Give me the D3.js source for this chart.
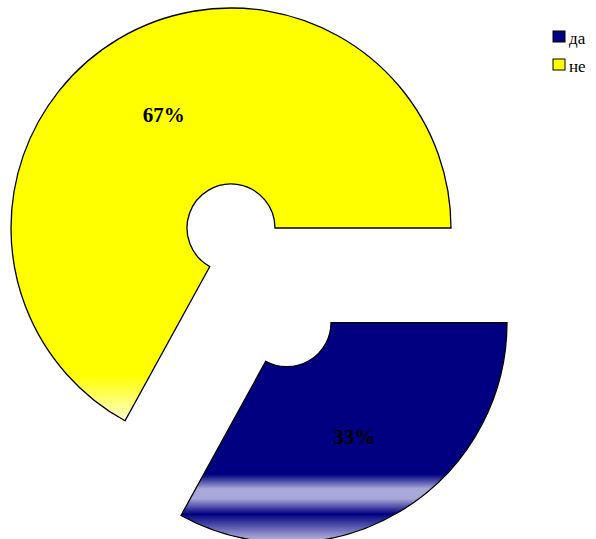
<!DOCTYPE html>
<html>
<head>
<meta charset="utf-8">
<script src="https://cdn.jsdelivr.net/npm/d3@7"></script>
<style>
  body { margin: 0; background: #fff; }
  svg { display: block; }
</style>
</head>
<body>
<div id="chart"></div>
<script>
const categories = ["да", "не"];
const values = [33, 67];
const sliceColors = ["#000080", "#FFFF00"];
const explodeBy = [110, 0];

const width = 596, height = 539;
const cx = 231, cy = 228;
const outerR = 220, innerR = 44;

let svg = d3.select('#chart').append('svg')
    .attr('width', width)
    .attr('height', height);

let defs = svg.append('defs');

// blue slice: navy with light bands near the bottom
let gBlue = defs.append('linearGradient')
    .attr('id', 'grad0')
    .attr('x1', 0).attr('y1', 0).attr('x2', 0).attr('y2', 1);
[[0, '#000080'], [0.69, '#000080'], [0.755, '#A8A8D8'], [0.8, '#A8A8D8'], [0.87, '#000080'], [0.98, '#A8A8D8'], [1, '#A8A8D8']]
    .forEach(function(s) { gBlue.append('stop').attr('offset', s[0]).attr('stop-color', s[1]); });

// yellow slice: fades to pale at the bottom
let gYellow = defs.append('linearGradient')
    .attr('id', 'grad1')
    .attr('x1', 0).attr('y1', 0).attr('x2', 0).attr('y2', 1);
[[0, '#FFFF00'], [0.89, '#FFFF00'], [1, '#FFFFD0']]
    .forEach(function(s) { gYellow.append('stop').attr('offset', s[0]).attr('stop-color', s[1]); });

let pie = d3.pie()
    .sort(null)
    .startAngle(Math.PI / 2)
    .endAngle(Math.PI / 2 + 2 * Math.PI);

let arc = d3.arc().innerRadius(innerR).outerRadius(outerR);

let arcs = pie(values);

let slices = svg.append('g')
    .attr('transform', 'translate(' + cx + ',' + cy + ')')
    .selectAll('g')
    .data(arcs)
    .enter()
    .append('g')
    .attr('transform', function(d, i) {
        let a = (d.startAngle + d.endAngle) / 2;
        return 'translate(' + (Math.sin(a) * explodeBy[i]) + ',' + (-Math.cos(a) * explodeBy[i]) + ')';
    });

slices.append('path')
    .attr('d', arc)
    .attr('fill', function(d, i) { return 'url(#grad' + i + ')'; })
    .attr('stroke', '#000')
    .attr('stroke-width', 1.3);

let total = d3.sum(values);

slices.append('text')
    .attr('transform', function(d) {
        let a = (d.startAngle + d.endAngle) / 2;
        let r = 132;
        return 'translate(' + (Math.sin(a) * r) + ',' + (-Math.cos(a) * r) + ')';
    })
    .attr('text-anchor', 'middle')
    .attr('dy', '0.35em')
    .attr('font-family', '"Times New Roman", "Liberation Serif", serif')
    .attr('font-weight', 'bold')
    .attr('font-size', 21)
    .attr('fill', '#000')
    .text(function(d) { return Math.round(d.value / total * 100) + '%'; });

// legend
let legend = svg.append('g')
    .attr('transform', 'translate(553, 31)')
    .selectAll('g')
    .data(categories)
    .enter()
    .append('g')
    .attr('transform', function(d, i) { return 'translate(0,' + (i * 28) + ')'; });

legend.append('rect')
    .attr('width', 12)
    .attr('height', 11)
    .attr('fill', function(d, i) { return sliceColors[i]; })
    .attr('stroke', '#000')
    .attr('stroke-width', 1);

legend.append('text')
    .attr('x', 16)
    .attr('y', 13)
    .attr('font-family', '"Times New Roman", "Liberation Serif", serif')
    .attr('font-size', 17)
    .attr('fill', '#000')
    .text(function(d) { return d; });
</script>
</body>
</html>
